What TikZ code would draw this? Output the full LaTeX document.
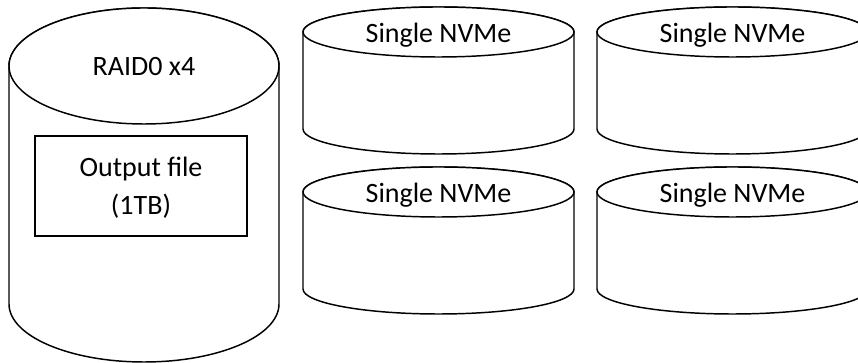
\documentclass[tikz,border=0pt]{standalone}
\usepackage{fontspec}
\setmainfont{Carlito}
\tikzset{
  disk/.style={draw=black, line width=1.1pt, fill=white},
  lbl/.style={font=\fontsize{21}{24}\selectfont, anchor=base},
  filebox/.style={draw=black, line width=1.1pt, fill=white, align=center,
    minimum width=159pt, minimum height=75pt,
    font=\fontsize{21}{28.5}\selectfont},
  % cylinder: origin at the centre of the top ellipse
  % #1 = half width, #2 = distance between the ellipse centres, #3 = ellipse half height
  pics/disk/.style n args={3}{code={
    \path[disk] (-#1,0) -- (-#1,-#2)
      arc[start angle=180, end angle=360, x radius=#1, y radius=#3]
      -- (#1,0) arc[start angle=0, end angle=180, x radius=#1, y radius=#3] -- cycle;
    \path[disk] (0,0) ellipse[x radius=#1, y radius=#3];
  }}
}
\begin{document}
\begin{tikzpicture}[x=0.75pt, y=0.75pt]
  \useasboundingbox (0,0) rectangle (858,363);
  \clip (0,0) rectangle (858,363);

  % striped volume
  \pic at (144,297) {disk={135}{238}{58}};
  \node[lbl] (raid) at (144,287) {RAID0 x4};
  \node[filebox] (outfile) at (141,177) {};
  \node[font=\fontsize{21}{28.5}\selectfont, align=center] (outtext) at (141,175) {Output file\\(1TB)};

  % single drives
  \pic at (438.5,331) {disk={135.5}{97}{25}};
  \pic at (732.5,331) {disk={135.5}{97}{25}};
  \pic at (438.5,171) {disk={135.5}{97}{25}};
  \pic at (732.5,171) {disk={135.5}{97}{25}};
  \node[lbl] (nvmeA) at (438.5,320) {Single NVMe};
  \node[lbl] (nvmeB) at (732.5,320) {Single NVMe};
  \node[lbl] (nvmeC) at (438.5,160) {Single NVMe};
  \node[lbl] (nvmeD) at (732.5,160) {Single NVMe};
\end{tikzpicture}
\end{document}
